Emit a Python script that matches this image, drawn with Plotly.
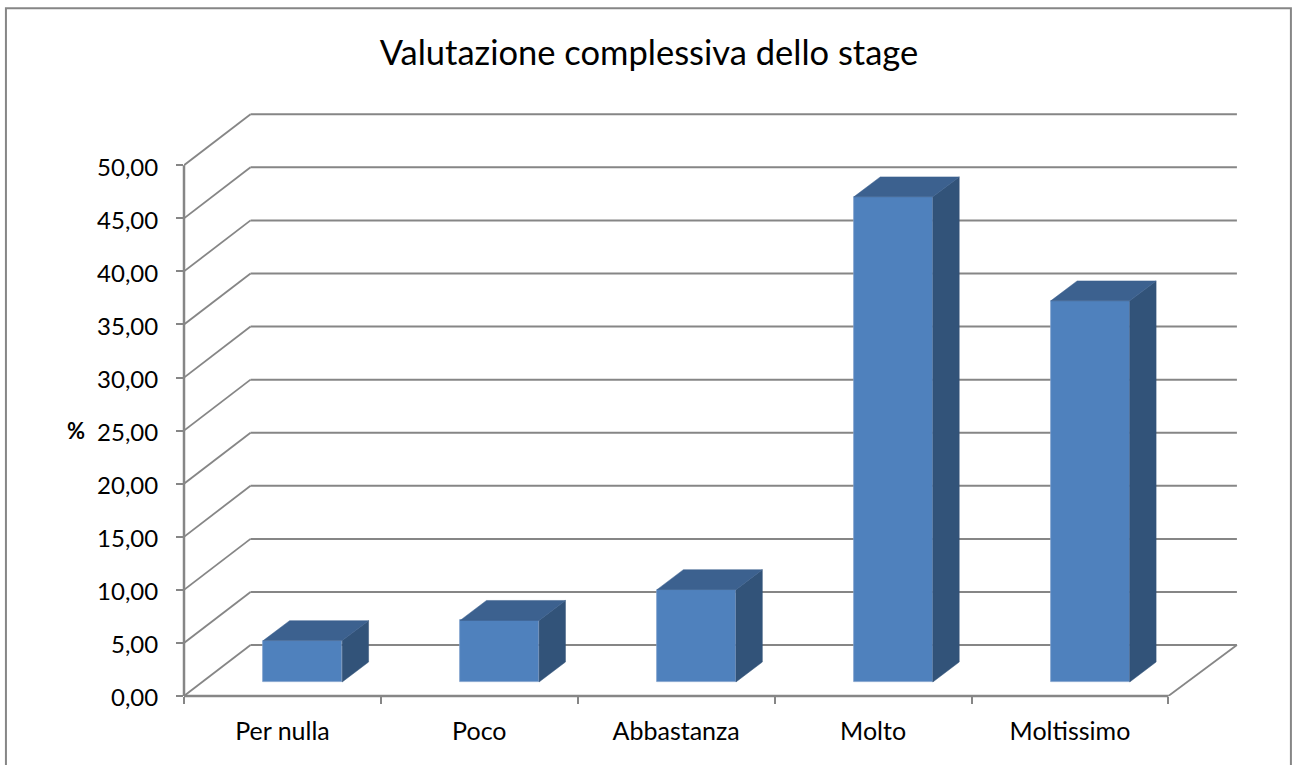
import plotly.graph_objects as go

categories = ["Per nulla", "Poco", "Abbastanza", "Molto", "Moltissimo"]
values = [3.9, 5.8, 8.7, 45.7, 35.9]
y_ticks = [0, 5, 10, 15, 20, 25, 30, 35, 40, 45, 50]
y_tick_labels = ["0,00", "5,00", "10,00", "15,00", "20,00", "25,00", "30,00", "35,00", "40,00", "45,00", "50,00"]
title_text = "Valutazione complessiva dello stage"
y_title = "%"

GRID = "#868686"
FRONT = "#4F81BD"
TOP = "#3C618F"
SIDE = "#325379"
FONT = "Lato"

# oblique projection of the depth axis, in data units
WALL_DX, WALL_DY = 0.338, 4.8
BAR_DX, BAR_DY = 0.103, 1.32      # offset of a bar's front face from the front of the floor
DEPTH_DX, DEPTH_DY = 0.134, 1.88  # projected depth of a bar
BAR_W = 0.401

W, H = 1292, 765
M = dict(l=184, r=35.4, t=109.8, b=69)
X_MAX, Y_MAX = 5.45, 55.2
n = len(categories)
centers = [i + 0.5 for i in range(n)]

fig = go.Figure()

# back wall, side wall and floor grid
shapes = []
def seg(x0, y0, x1, y1, w=2):
    shapes.append(dict(type="line", xref="x", yref="y", x0=x0, y0=y0, x1=x1, y1=y1,
                       layer="below", line=dict(color=GRID, width=w)))
for k in y_ticks:
    seg(WALL_DX, k + WALL_DY, n + WALL_DX + 0.01, k + WALL_DY, 2)
    seg(0, k, WALL_DX, k + WALL_DY, 1.8)
seg(n, 0, n + WALL_DX + 0.01, WALL_DY, 1.8)  # right floor edge

# chart frame
px = lambda v: (v - M["l"]) / (W - M["l"] - M["r"])
py = lambda v: 1 - (v - M["t"]) / (H - M["t"] - M["b"])
shapes.append(dict(type="rect", xref="paper", yref="paper", x0=px(6), x1=px(1290.5), y0=py(8), y1=py(790),
                   layer="below", line=dict(color=GRID, width=2), fillcolor="rgba(0,0,0,0)"))
# front axis lines, in paper space so they are not clipped at the plot edge
shapes.append(dict(type="line", xref="paper", yref="paper", x0=0, x1=0, y0=0, y1=50 / Y_MAX,
                   layer="below", line=dict(color=GRID, width=2.5)))
shapes.append(dict(type="line", xref="paper", yref="paper", x0=0, x1=n / X_MAX, y0=0, y1=0,
                   layer="below", line=dict(color=GRID, width=2.5)))

# front faces
fig.add_trace(go.Bar(x=[c + BAR_DX for c in centers], y=values, base=BAR_DY, width=BAR_W,
                     marker=dict(color=FRONT, line=dict(color="#7E9FCB", width=0.75)),
                     text=categories, textposition="none", showlegend=False))

# top and side faces
top_x, top_y, side_x, side_y = [], [], [], []
for c, v in zip(centers, values):
    x0 = c + BAR_DX - BAR_W / 2
    x1 = x0 + BAR_W
    y0 = BAR_DY
    y1 = BAR_DY + v
    top_x += [x0, x1, x1 + DEPTH_DX, x0 + DEPTH_DX, x0, None]
    top_y += [y1, y1, y1 + DEPTH_DY, y1 + DEPTH_DY, y1, None]
    side_x += [x1, x1 + DEPTH_DX, x1 + DEPTH_DX, x1, x1, None]
    side_y += [y0, y0 + DEPTH_DY, y1 + DEPTH_DY, y1, y0, None]
fig.add_trace(go.Scatter(x=side_x, y=side_y, mode="lines", fill="toself", fillcolor=SIDE,
                         line=dict(color=SIDE, width=0.5), hoverinfo="skip", showlegend=False))
fig.add_trace(go.Scatter(x=top_x, y=top_y, mode="lines", fill="toself", fillcolor=TOP,
                         line=dict(color=TOP, width=0.5), hoverinfo="skip", showlegend=False))

fig.update_layout(
    width=W, height=H, margin=M, autosize=False,
    paper_bgcolor="white", plot_bgcolor="rgba(0,0,0,0)",
    font=dict(family=FONT, color="#000000"),
    shapes=shapes, showlegend=False, bargap=0,
    title=dict(text=title_text, font=dict(family=FONT, size=34.5, color="#000000"),
               x=649 / W, xanchor="center", xref="container",
               y=1 - 53 / H, yanchor="middle", yref="container"),
    xaxis=dict(range=[0, X_MAX], showgrid=False, zeroline=False, showline=False,
               tickmode="array", tickvals=centers, ticktext=categories, ticks="",
               ticklabelstandoff=18, tickfont=dict(family=FONT, size=25),
               minor=dict(tickmode="array", tickvals=list(range(n + 1)), ticks="outside",
                          ticklen=7, tickwidth=1.5, tickcolor=GRID, showgrid=False)),
    yaxis=dict(range=[0, Y_MAX], showgrid=False, zeroline=False, showline=False,
               tickmode="array", tickvals=y_ticks, ticktext=y_tick_labels, ticks="outside",
               ticklen=7, tickwidth=1.5, tickcolor=GRID, ticklabelstandoff=13, ticklabelshift=2,
               tickfont=dict(family=FONT, size=24)),
    annotations=[dict(text="<b>" + y_title + "</b>", xref="paper", x=px(76), yref="y", y=25, showarrow=False,
                      xanchor="center", yanchor="middle", font=dict(family=FONT, size=22, color="#000000"))],
)

fig.write_html("out.html", post_script="document.body.style.margin='0';", config={"displayModeBar": False})
